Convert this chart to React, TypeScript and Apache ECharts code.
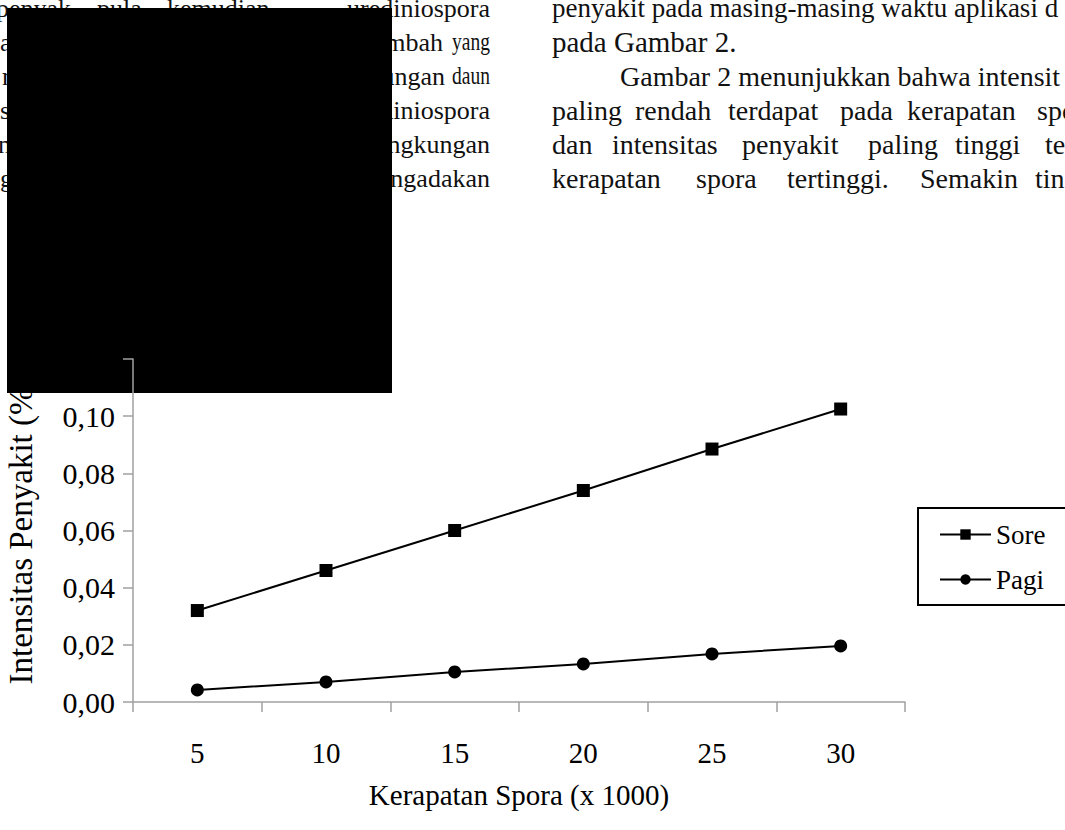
import React, { useEffect, useRef } from "react";
import * as echarts from "echarts";

// ---- chart data ----
const categories = ["5", "10", "15", "20", "25", "30"];
const soreValues = [0.032, 0.046, 0.06, 0.074, 0.0885, 0.1025];
const pagiValues = [0.0042, 0.007, 0.0105, 0.0133, 0.0168, 0.0196];
const seriesNames = ["Sore", "Pagi"];
const yMin = 0;
const yMax = 0.12;
const yStep = 0.02;
const xAxisTitle = "Kerapatan Spora (x 1000)";
const yAxisTitle = "Intensitas Penyakit (%)";

// ---- surrounding page text (scanned document) ----
const leftColumnLines = [
  ["penyak", "pula,", "kemudian", "urediniospora"],
  ["a", "bertambah", "yang"],
  ["r", "lingkungan", "daun"],
  ["s", "urediniospora"],
  ["n", "lingkungan"],
  ["g", "mengadakan"],
];
const rightColumnLines = [
  ["penyakit pada masing-masing waktu aplikasi d"],
  ["pada Gambar 2."],
  ["Gambar 2 menunjukkan bahwa intensit"],
  ["paling", "rendah", "terdapat", "pada", "kerapatan", "spor"],
  ["dan", "intensitas", "penyakit", "paling", "tinggi", "terd"],
  ["kerapatan", "spora", "tertinggi.", "Semakin", "ting"],
];

// layout (pixel positions of words)
const lineCenters = [8, 42, 76, 110, 144, 178];
const leftWordX: [number, string][][] = [
  [[-4, "left"], [97, "left"], [167, "left"], [490, "right"]],
  [[0, "left"], [443, "right"], [490, "right"]],
  [[2, "left"], [445, "right"], [490, "right"]],
  [[0, "left"], [490, "right"]],
  [[-2, "left"], [490, "right"]],
  [[0, "left"], [490, "right"]],
];
const rightWordX: number[][] = [
  [552],
  [552],
  [620],
  [552, 635, 728, 840, 907, 1037],
  [552, 612, 742, 868, 955, 1045],
  [552, 696, 787, 920, 1035],
];
const rightLineFont = [27, 29, 28, 28, 28, 28];

const FONT = "'Liberation Serif', 'Times New Roman', serif";

export default function App() {
  const ref = useRef<HTMLDivElement>(null);

  useEffect(() => {
    if (!ref.current) return;
    const chart = echarts.init(ref.current, null, { renderer: "svg" });

    const graphics: any[] = [];
    leftColumnLines.forEach((words, li) => {
      words.forEach((w, wi) => {
        const [x, align] = leftWordX[li][wi];
        const narrow = li === 1 || li === 2 ? 0.75 : 1;
        graphics.push({
          type: "text",
          x,
          y: lineCenters[li],
          z: 1,
          scaleX: wi === words.length - 1 ? narrow : 1,
          style: {
            text: w,
            fill: "#111",
            font: `26px ${FONT}`,
            textAlign: align,
            textVerticalAlign: "middle",
          },
        });
      });
    });
    rightColumnLines.forEach((words, li) => {
      words.forEach((w, wi) => {
        graphics.push({
          type: "text",
          x: rightWordX[li][wi],
          y: lineCenters[li],
          z: 1,
          style: {
            text: w,
            fill: "#111",
            font: `${rightLineFont[li]}px ${FONT}`,
            textAlign: "left",
            textVerticalAlign: "middle",
          },
        });
      });
    });
    graphics.push({
      type: "rect",
      z: 2,
      shape: { x: 7, y: 8, width: 385, height: 385 },
      style: { fill: "#000" },
    });

    const fmt = (v: number) =>
      v >= yMax - 1e-9 ? "" : v.toFixed(2).replace(".", ",");

    chart.setOption({
      animation: false,
      backgroundColor: "#fff",
      textStyle: { fontFamily: FONT, color: "#000" },
      graphic: { elements: graphics },
      grid: {
        left: 133,
        right: 160,
        top: 359,
        bottom: 128,
        containLabel: false,
        outerBoundsMode: "none",
      },
      legend: {
        data: seriesNames,
        orient: "vertical",
        left: 918,
        top: 508,
        z: 20,
        selectedMode: false,
        backgroundColor: "#fff",
        borderColor: "#000",
        borderWidth: 2,
        borderRadius: 0,
        padding: [13, 40, 12, 21],
        itemGap: 18,
        itemWidth: 51,
        itemHeight: 13,
        textStyle: { fontSize: 27, color: "#000", fontFamily: FONT },
      },
      xAxis: {
        type: "category",
        data: categories,
        boundaryGap: true,
        z: 10,
        name: xAxisTitle,
        nameLocation: "middle",
        nameGap: 78,
        nameTextStyle: { fontSize: 29, color: "#000", fontFamily: FONT },
        axisLine: { show: true, lineStyle: { color: "#a0a0a0", width: 1.5 } },
        axisTick: { show: true, length: 10, lineStyle: { color: "#a0a0a0", width: 1.5 } },
        axisLabel: { margin: 36, fontSize: 29, color: "#000", fontFamily: FONT },
        splitLine: { show: false },
      },
      yAxis: {
        type: "value",
        min: yMin,
        max: yMax,
        interval: yStep,
        z: 10,
        name: yAxisTitle,
        nameLocation: "middle",
        nameRotate: 90,
        nameGap: 96,
        nameTextStyle: { fontSize: 33, color: "#000", fontFamily: FONT },
        axisLine: { show: true, lineStyle: { color: "#a0a0a0", width: 1.5 } },
        axisTick: { show: true, length: 10, lineStyle: { color: "#a0a0a0", width: 1.5 } },
        axisLabel: { margin: 18, fontSize: 30, color: "#000", fontFamily: FONT, formatter: fmt },
        splitLine: { show: false },
      },
      series: [
        {
          name: seriesNames[0],
          type: "line",
          data: soreValues,
          z: 11,
          symbol: "rect",
          symbolSize: 13,
          lineStyle: { color: "#000", width: 2 },
          itemStyle: { color: "#000" },
        },
        {
          name: seriesNames[1],
          type: "line",
          data: pagiValues,
          z: 11,
          symbol: "circle",
          symbolSize: 13,
          lineStyle: { color: "#000", width: 2 },
          itemStyle: { color: "#000" },
        },
      ],
    });

    return () => chart.dispose();
  }, []);

  return (
    <div
      ref={ref}
      style={{ position: "fixed", left: 0, top: 0, width: 1065, height: 830, background: "#fff" }}
    />
  );
}
